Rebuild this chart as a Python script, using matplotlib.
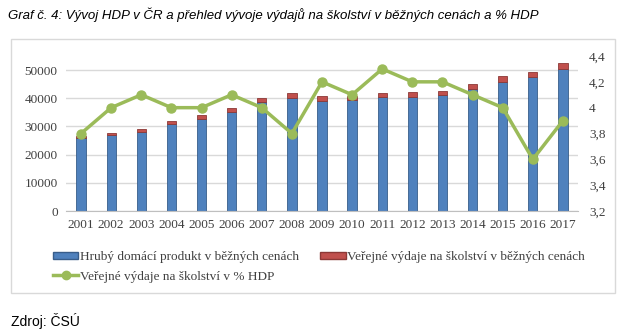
import matplotlib.pyplot as plt
import numpy as np
from matplotlib.patches import Rectangle
from matplotlib.lines import Line2D

# Data
years = ['2001', '2002', '2003', '2004', '2005', '2006', '2007', '2008', '2009',
         '2010', '2011', '2012', '2013', '2014', '2015', '2016', '2017']
hdp = [25900, 26800, 28200, 30700, 32800, 35200, 38600, 40100, 39200,
       39400, 40400, 40600, 41100, 43300, 45900, 47600, 50500]
vydaje = [600, 1000, 1000, 1100, 1100, 1300, 1400, 1700, 1500,
          1500, 1600, 1600, 1600, 1600, 1900, 1800, 2000]
vydaje_pct = [3.8, 4.0, 4.1, 4.0, 4.0, 4.1, 4.0, 3.8, 4.2,
              4.1, 4.3, 4.2, 4.2, 4.1, 4.0, 3.6, 3.9]

blue = '#4F81BD'
red = '#C0504D'
green = '#9BBB59'
serif = ['Liberation Serif', 'DejaVu Serif']

fig = plt.figure(figsize=(6.3, 3.34), dpi=100)

# chart frame
fig.patches.append(Rectangle((11/630, 1-293/334), (615-11)/630, (293-39)/334,
                             transform=fig.transFigure, fill=False,
                             edgecolor='#D9D9D9', linewidth=1))

ax = fig.add_axes([66/630, 1-211/334, (578-66)/630, 155/334])
x = np.arange(len(years))
ax.bar(x, hdp, width=0.31, color=blue, edgecolor='#385D8A', linewidth=0.6, zorder=2)
ax.bar(x, vydaje, bottom=hdp, width=0.31, color=red, edgecolor='#8C3836', linewidth=0.6, zorder=2)
ax.set_ylim(0, 55000)
ax.set_xlim(-0.5, len(years) - 0.5)
ax.set_yticks(range(0, 50001, 10000))
ax.set_xticks(x)
ax.set_xticklabels(years)
ax.grid(axis='y', color='#D9D9D9', linewidth=1, zorder=0)
ax.set_axisbelow(True)
for s in ['top', 'right', 'left']:
    ax.spines[s].set_visible(False)
ax.spines['bottom'].set_color('#BFBFBF')
ax.tick_params(length=0, labelsize=9.5, colors='#404040', pad=6)
for lab in ax.get_xticklabels() + ax.get_yticklabels():
    lab.set_family(serif)

ax2 = ax.twinx()
ax2.plot(x, vydaje_pct, color=green, linewidth=2.5, marker='o', markersize=6.5,
         markerfacecolor=green, markeredgecolor=green, zorder=3)
ax2.set_ylim(3.2, 4.4)
ax2.set_yticks(np.arange(3.2, 4.41, 0.2))
ax2.set_yticklabels(['3,2', '3,4', '3,6', '3,8', '4', '4,2', '4,4'])
for s in ax2.spines.values():
    s.set_visible(False)
ax2.tick_params(length=0, labelsize=9.5, colors='#404040', pad=8)
for lab in ax2.get_yticklabels():
    lab.set_family(serif)

# legend: two rows, filled column by column
handles = [Rectangle((0, 0), 1, 1, facecolor=blue, edgecolor='#385D8A'),
           Line2D([], [], color=green, linewidth=2.5, marker='o', markersize=6),
           Rectangle((0, 0), 1, 1, facecolor=red, edgecolor='#8C3836')]
labels = ['Hrubý domácí produkt v běžných cenách',
          'Veřejné výdaje na školství v % HDP',
          'Veřejné výdaje na školství v běžných cenách']
fig.legend(handles, labels, loc='upper left', bbox_to_anchor=(48/630, 1-246/334),
           ncol=2, frameon=False, prop={'family': serif, 'size': 9.5},
           handlelength=1.9, handleheight=0.5, handletextpad=0.15,
           columnspacing=1.6, labelspacing=0.55, borderaxespad=0,
           labelcolor='#404040')

fig.text(8/630, 1-15/334, 'Graf č. 4: Vývoj HDP v ČR a přehled vývoje výdajů na školství v běžných cenách a % HDP',
         style='italic', fontsize=9.5, va='center', ha='left',
         family=['Liberation Sans Narrow', 'Liberation Sans', 'DejaVu Sans'])
fig.text(11/630, 1-321/334, 'Zdroj: ČSÚ', fontsize=10, va='center', ha='left',
         family=['Liberation Sans Narrow', 'Liberation Sans', 'DejaVu Sans'])

fig.savefig('out.png', dpi=100)
